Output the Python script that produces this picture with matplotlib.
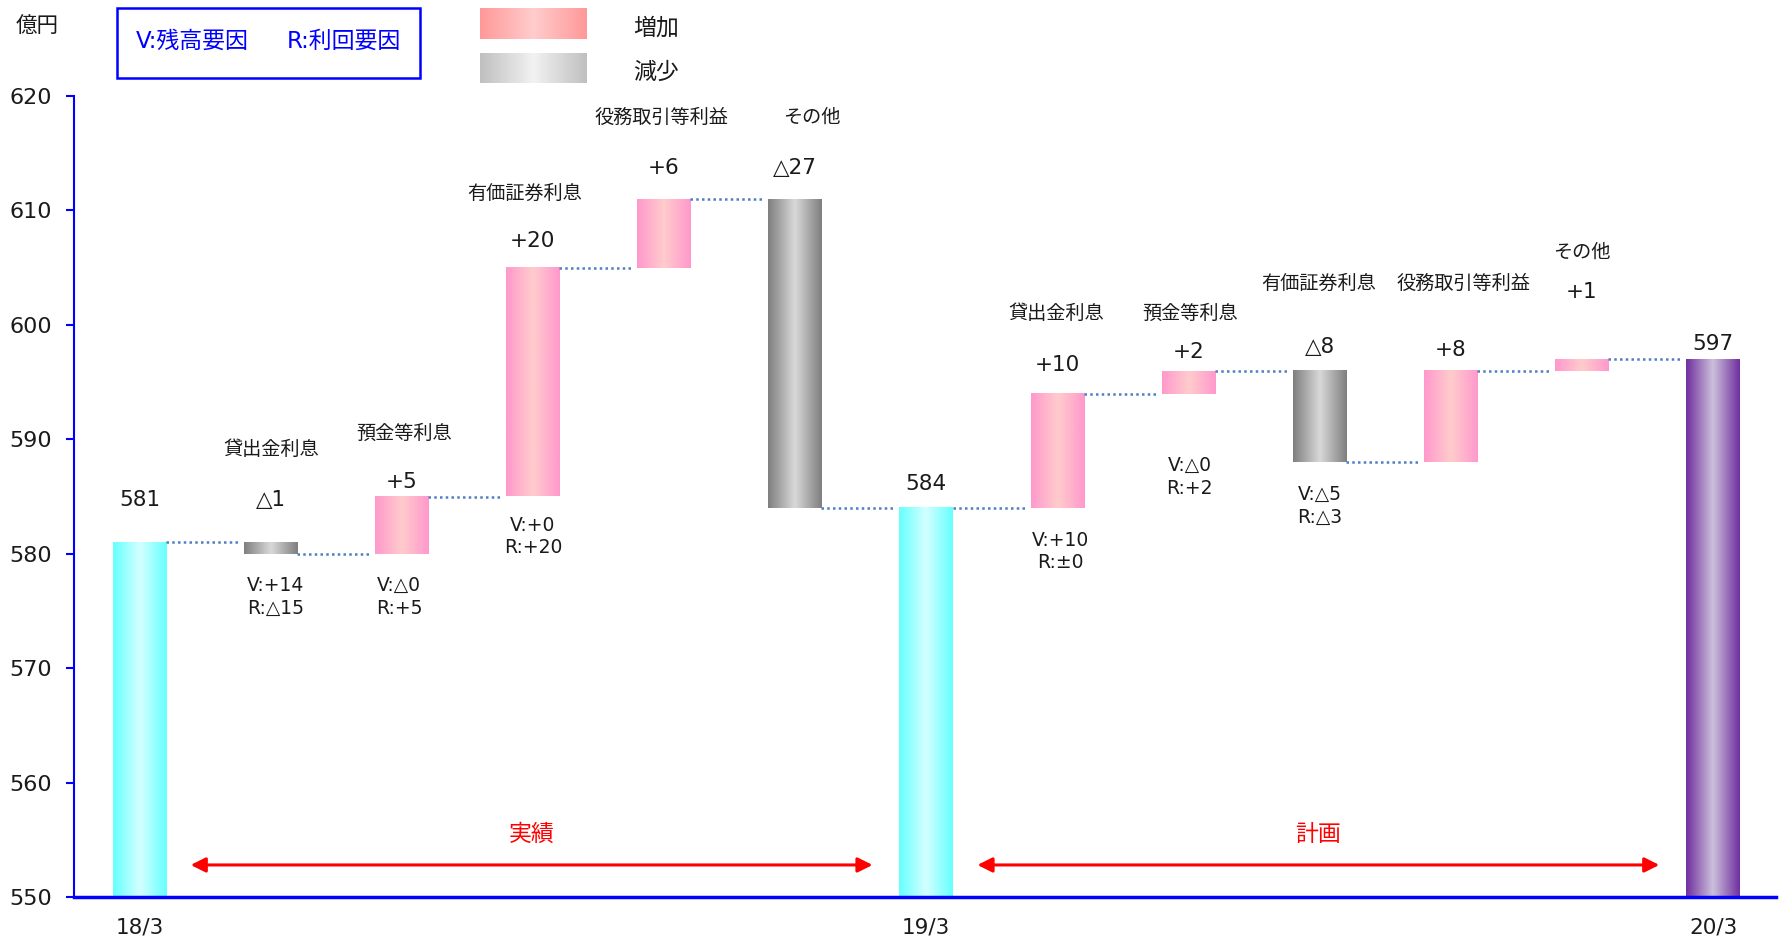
import numpy as np
import matplotlib.pyplot as plt
from matplotlib.colors import LinearSegmentedColormap
from matplotlib.patches import Rectangle

plt.rcParams['font.family'] = ['DejaVu Sans', 'Noto Sans CJK JP']

# data (億円)
start_label = '18/3'
mid_label = '19/3'
end_label = '20/3'
start_value = 581
mid_value = 584
end_value = 597

actual_items = ['貸出金利息', '預金等利息', '有価証券利息', '役務取引等利益', 'その他']
actual_deltas = [-1, 5, 20, 6, -27]
plan_items = ['貸出金利息', '預金等利息', '有価証券利息', '役務取引等利益', 'その他']
plan_deltas = [10, 2, -8, 8, 1]

# V:残高要因 / R:利回要因 breakdown (None = not shown)
actual_vr = [('+14', '△15'), ('△0', '+5'), ('+0', '+20'), None, None]
plan_vr = [('+10', '±0'), ('△0', '+2'), ('△5', '△3'), None, None]

# layout of the text labels (y in axis units)
value_label_y = [584.7, 584.7, 586.3, 607.3, 613.7, 613.7, 586.1,
                 596.5, 597.6, 598.1, 597.8, 602.9, 598.3]
name_label_pos = [None, (1.0, 589.1), (2.02, 590.5), (2.94, 611.5), (3.98, 618.1), (5.13, 618.1),
                  None, (6.99, 601.0), (8.01, 601.0), (8.99, 603.6), (10.1, 603.6), (11.0, 606.3), None]
vr_label_pos = [None, (1.04, 576.2), (1.98, 576.2), (3.0, 581.5), None, None,
                None, (7.02, 580.2), (8.01, 586.7), (9.0, 584.2), None, None, None]


def fmt(d):
    return ('△' if d < 0 else '+') + str(abs(d))


def grad_bar(ax, x, y0, y1, w, edge, mid, z=2):
    cmap = LinearSegmentedColormap.from_list('g', [edge, mid, edge])
    g = np.linspace(0, 1, 100).reshape(1, -1)
    ax.imshow(g, cmap=cmap, extent=(x - w / 2, x + w / 2, y0, y1),
              aspect='auto', interpolation='bicubic', zorder=z)


fig = plt.figure(figsize=(17.83, 9.43), dpi=100)
ax = fig.add_axes([74 / 1783, 46 / 943, 1702 / 1783, 801 / 943])

W = 0.41
PINK = ('#FF99CC', '#FFCCCC')
GRAY = ('#7F7F7F', '#D9D9D9')
CYAN = ('#66FFFF', '#D4FFFF')
PURPLE = ('#7030A0', '#CCC0DA')

# build the sequence of bars
names = [None] + actual_items + [None] + plan_items + [None]
vrs = [None] + actual_vr + [None] + plan_vr + [None]
bars = []  # (bottom, top, colors, label)
bars.append((550, start_value, CYAN, str(start_value)))
level = start_value
for d in actual_deltas:
    bars.append((min(level, level + d), max(level, level + d), PINK if d > 0 else GRAY, fmt(d)))
    level += d
bars.append((550, mid_value, CYAN, str(mid_value)))
level = mid_value
for d in plan_deltas:
    bars.append((min(level, level + d), max(level, level + d), PINK if d > 0 else GRAY, fmt(d)))
    level += d
bars.append((550, end_value, PURPLE, str(end_value)))

levels = []
lv = start_value
for i, (b, t, c, lab) in enumerate(bars):
    grad_bar(ax, i, b, t, W, c[0], c[1])
    ax.text(i, value_label_y[i], lab, ha='center', va='center', fontsize=15.5, color='#1a1a1a')
    if i == 0:
        lv = start_value
    elif i == 6:
        lv = mid_value
    elif i == 12:
        lv = end_value
    elif i < 6:
        lv = lv + actual_deltas[i - 1]
    else:
        lv = lv + plan_deltas[i - 7]
    levels.append(lv)

# dotted connectors
for i in range(len(bars) - 1):
    ax.plot([i + 0.2, i + 0.76], [levels[i], levels[i]], color='#4F7FC0',
            lw=1.8, linestyle=(0, (1, 1.3)), zorder=3)

# item names
for i, n in enumerate(names):
    if n is not None:
        x, y = name_label_pos[i]
        ax.text(x, y, n, ha='center', va='center', fontsize=13.8, color='#1a1a1a')

# V / R breakdown
for i, vr in enumerate(vrs):
    if vr is not None:
        x, y = vr_label_pos[i]
        ax.text(x, y, 'V:' + vr[0] + '\nR:' + vr[1], ha='center', va='center',
                fontsize=13.5, color='#1a1a1a', linespacing=1.25)

# period arrows
for x0, x1, txt in [(0.39, 5.59, '実績'), (6.39, 11.59, '計画')]:
    ax.annotate('', xy=(x1, 552.8), xytext=(x0, 552.8),
                arrowprops=dict(arrowstyle='<|-|>', color='red', lw=2.2, mutation_scale=22,
                                shrinkA=0, shrinkB=0))
    ax.text((x0 + x1) / 2, 555.5, txt, ha='center', va='center', fontsize=16.5, color='red')

ax.set_xlim(-0.5, 12.48)
ax.set_ylim(550, 620)
ax.set_yticks(range(550, 621, 10))
ax.set_xticks([0, 6, 12])
ax.set_xticklabels([start_label, mid_label, end_label])
ax.tick_params(axis='y', colors='blue', length=6, width=1.5, labelsize=16, labelcolor='#1a1a1a', pad=10)
ax.tick_params(axis='x', length=0, labelsize=15.5, labelcolor='#1a1a1a', pad=15)
for s in ['top', 'right']:
    ax.spines[s].set_visible(False)
ax.spines['left'].set_color('blue')
ax.spines['left'].set_linewidth(1.5)
ax.spines['bottom'].set_color('blue')
ax.spines['bottom'].set_linewidth(2.5)

# header: unit, V/R box, legend
fig.text(37 / 1783, 1 - 27 / 943, '億円', ha='center', va='center', fontsize=15.5, color='#1a1a1a')
fig.add_artist(Rectangle((117 / 1783, 1 - 78 / 943), 303 / 1783, 70 / 943, transform=fig.transFigure,
                         fill=False, edgecolor='blue', lw=1.8))
fig.text(192 / 1783, 1 - 41 / 943, 'V:残高要因', ha='center', va='center', fontsize=16.5, color='blue')
fig.text(344 / 1783, 1 - 41 / 943, 'R:利回要因', ha='center', va='center', fontsize=16.5, color='blue')

for (top, bot), (e, m), lab, ty in [((8, 39), ('#FF9999', '#FFCCCC'), '増加', 28),
                                    ((53, 83), ('#C0C0C0', '#F2F2F2'), '減少', 72)]:
    lax = fig.add_axes([480 / 1783, 1 - bot / 943, 107 / 1783, (bot - top) / 943])
    grad_bar(lax, 0, 0, 1, 1, e, m)
    lax.set_xlim(-0.5, 0.5)
    lax.set_ylim(0, 1)
    lax.axis('off')
    fig.text(656 / 1783, 1 - ty / 943, lab, ha='center', va='center', fontsize=16.5,
             color='#1a1a1a')

fig.savefig('out.png', dpi=100)
